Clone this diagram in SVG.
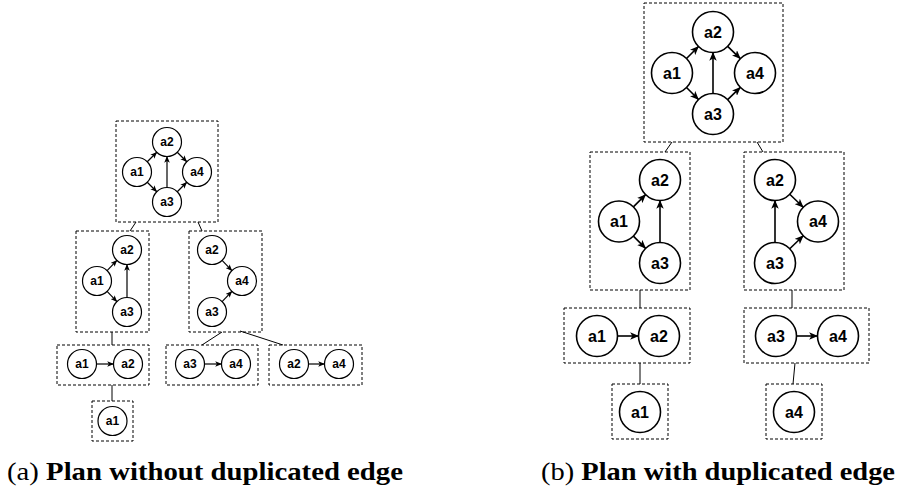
<svg xmlns="http://www.w3.org/2000/svg" width="902" height="488" viewBox="0 0 902 488">
  <style>
    .box { fill: none; stroke: #000; stroke-width: 1; stroke-dasharray: 3 2; }
    .n1 circle { fill: #fff; stroke: #000; stroke-width: 1.2; }
    .n2 circle { fill: #fff; stroke: #000; stroke-width: 1.6; }
    .n1 text, .n2 text { font-family: "Liberation Sans", Arial, sans-serif; font-weight: bold; text-anchor: middle; dominant-baseline: central; fill: #000; }
    .n1 text { font-size: 12px; }
    .n2 text { font-size: 16px; }
    .e1 { stroke: #000; stroke-width: 1.2; fill: none; marker-end: url(#arr); }
    .e2 { stroke: #000; stroke-width: 1.6; fill: none; marker-end: url(#arr); }
    .tree { stroke: #000; stroke-width: 1; fill: none; }
    .cap { font-family: "Liberation Serif", "Times New Roman", serif; font-size: 26px; fill: #000; }
    .cap .b { font-weight: bold; }
  </style>
  <defs>
    <!-- filled arrowhead with a shallow notch, sized by stroke width -->
    <marker id="arr" viewBox="0 0 6 5" refX="5.6" refY="2.5" markerWidth="5.6" markerHeight="4.8" orient="auto" markerUnits="strokeWidth">
      <path d="M0,0 L6,2.5 L0,5 L1.5,2.5 z" fill="#000"/>
    </marker>
  </defs>

  <!-- ===== Plan (a) ===== -->
  <g id="a-root">
    <rect class="box" x="116" y="121" width="102" height="101"/>
    <g class="n1">
      <circle cx="167" cy="142" r="14.5"/><text x="167" y="142">a2</text>
      <circle cx="137" cy="172" r="14.5"/><text x="137" y="172">a1</text>
      <circle cx="197" cy="172" r="14.5"/><text x="197" y="172">a4</text>
      <circle cx="167" cy="202" r="14.5"/><text x="167" y="202">a3</text>
    </g>
    <line class="e1" x1="147.25" y1="161.75" x2="156.75" y2="152.25"/>
    <line class="e1" x1="147.25" y1="182.25" x2="156.75" y2="191.75"/>
    <line class="e1" x1="167" y1="187.5" x2="167" y2="156.5"/>
    <line class="e1" x1="177.25" y1="152.25" x2="186.75" y2="161.75"/>
    <line class="e1" x1="177.25" y1="191.75" x2="186.75" y2="182.25"/>
  </g>

  <g id="a-left">
    <rect class="box" x="76" y="231" width="73" height="101"/>
    <g class="n1">
      <circle cx="127" cy="250" r="14.5"/><text x="127" y="250">a2</text>
      <circle cx="97" cy="281" r="14.5"/><text x="97" y="281">a1</text>
      <circle cx="127" cy="312" r="14.5"/><text x="127" y="312">a3</text>
    </g>
    <line class="e1" x1="107.08" y1="270.58" x2="116.92" y2="260.42"/>
    <line class="e1" x1="107.08" y1="291.42" x2="116.92" y2="301.58"/>
    <line class="e1" x1="127" y1="297.5" x2="127" y2="264.5"/>
  </g>

  <g id="a-right">
    <rect class="box" x="189" y="231" width="73" height="101"/>
    <g class="n1">
      <circle cx="212" cy="250" r="14.5"/><text x="212" y="250">a2</text>
      <circle cx="242" cy="281" r="14.5"/><text x="242" y="281">a4</text>
      <circle cx="212" cy="312" r="14.5"/><text x="212" y="312">a3</text>
    </g>
    <line class="e1" x1="222.08" y1="260.42" x2="231.92" y2="270.58"/>
    <line class="e1" x1="222.08" y1="301.58" x2="231.92" y2="291.42"/>
  </g>

  <g id="a-a1a2">
    <rect class="box" x="57" y="345" width="92" height="40"/>
    <g class="n1">
      <circle cx="82" cy="364" r="14.5"/><text x="82" y="364">a1</text>
      <circle cx="128" cy="364" r="14.5"/><text x="128" y="364">a2</text>
    </g>
    <line class="e1" x1="96.5" y1="364" x2="113.5" y2="364"/>
  </g>

  <g id="a-a3a4">
    <rect class="box" x="166" y="345" width="92" height="40"/>
    <g class="n1">
      <circle cx="190" cy="364" r="14.5"/><text x="190" y="364">a3</text>
      <circle cx="236" cy="364" r="14.5"/><text x="236" y="364">a4</text>
    </g>
    <line class="e1" x1="204.5" y1="364" x2="221.5" y2="364"/>
  </g>

  <g id="a-a2a4">
    <rect class="box" x="269" y="345" width="93" height="40"/>
    <g class="n1">
      <circle cx="294" cy="364" r="14.5"/><text x="294" y="364">a2</text>
      <circle cx="339" cy="364" r="14.5"/><text x="339" y="364">a4</text>
    </g>
    <line class="e1" x1="308.5" y1="364" x2="324.5" y2="364"/>
  </g>

  <g id="a-a1">
    <rect class="box" x="92" y="401" width="41" height="40"/>
    <g class="n1">
      <circle cx="112.5" cy="421" r="14.5"/><text x="112.5" y="421">a1</text>
    </g>
  </g>

  <g id="a-links">
    <line class="tree" x1="136" y1="222" x2="130" y2="231"/>
    <line class="tree" x1="198" y1="222" x2="202" y2="231"/>
    <line class="tree" x1="112" y1="332" x2="112" y2="345"/>
    <line class="tree" x1="222" y1="332" x2="202" y2="345"/>
    <line class="tree" x1="240" y1="331" x2="283" y2="345"/>
    <line class="tree" x1="112" y1="385" x2="112" y2="401"/>
  </g>

  <!-- ===== Plan (b) ===== -->
  <g id="b-root">
    <rect class="box" x="644" y="3" width="139" height="139"/>
    <g class="n2">
      <circle cx="713" cy="32" r="20.5"/><text x="713" y="32">a2</text>
      <circle cx="672" cy="73" r="20.5"/><text x="672" y="73">a1</text>
      <circle cx="755" cy="73" r="20.5"/><text x="755" y="73">a4</text>
      <circle cx="713" cy="114" r="20.5"/><text x="713" y="114">a3</text>
    </g>
    <line class="e2" x1="686.5" y1="58.5" x2="698.5" y2="46.5"/>
    <line class="e2" x1="686.5" y1="87.5" x2="698.5" y2="99.5"/>
    <line class="e2" x1="713" y1="93.5" x2="713" y2="52.5"/>
    <line class="e2" x1="727.67" y1="46.32" x2="740.33" y2="58.68"/>
    <line class="e2" x1="727.67" y1="99.68" x2="740.33" y2="87.32"/>
  </g>

  <g id="b-left">
    <rect class="box" x="590" y="152" width="100" height="138"/>
    <g class="n2">
      <circle cx="660" cy="180" r="20.5"/><text x="660" y="180">a2</text>
      <circle cx="619" cy="221.5" r="20.5"/><text x="619" y="221.5">a1</text>
      <circle cx="660" cy="263" r="20.5"/><text x="660" y="263">a3</text>
    </g>
    <line class="e2" x1="633.41" y1="206.92" x2="645.59" y2="194.58"/>
    <line class="e2" x1="633.41" y1="236.08" x2="645.59" y2="248.42"/>
    <line class="e2" x1="660" y1="242.5" x2="660" y2="200.5"/>
  </g>

  <g id="b-right">
    <rect class="box" x="744" y="152" width="100" height="138"/>
    <g class="n2">
      <circle cx="775" cy="180" r="20.5"/><text x="775" y="180">a2</text>
      <circle cx="818" cy="221.5" r="20.5"/><text x="818" y="221.5">a4</text>
      <circle cx="775" cy="263" r="20.5"/><text x="775" y="263">a3</text>
    </g>
    <line class="e2" x1="789.75" y1="194.24" x2="803.25" y2="207.26"/>
    <line class="e2" x1="789.75" y1="248.76" x2="803.25" y2="235.74"/>
    <line class="e2" x1="775" y1="242.5" x2="775" y2="200.5"/>
  </g>

  <g id="b-a1a2">
    <rect class="box" x="564" y="308" width="126" height="55"/>
    <g class="n2">
      <circle cx="597" cy="336" r="20.5"/><text x="597" y="336">a1</text>
      <circle cx="659" cy="336" r="20.5"/><text x="659" y="336">a2</text>
    </g>
    <line class="e2" x1="617.5" y1="336" x2="638.5" y2="336"/>
  </g>

  <g id="b-a3a4">
    <rect class="box" x="744" y="308" width="125" height="55"/>
    <g class="n2">
      <circle cx="776" cy="336" r="20.5"/><text x="776" y="336">a3</text>
      <circle cx="838" cy="336" r="20.5"/><text x="838" y="336">a4</text>
    </g>
    <line class="e2" x1="796.5" y1="336" x2="817.5" y2="336"/>
  </g>

  <g id="b-a1">
    <rect class="box" x="612" y="384" width="56" height="55"/>
    <g class="n2">
      <circle cx="640" cy="412" r="20.5"/><text x="640" y="412">a1</text>
    </g>
  </g>

  <g id="b-a4">
    <rect class="box" x="766" y="384" width="56" height="55"/>
    <g class="n2">
      <circle cx="794" cy="412" r="20.5"/><text x="794" y="412">a4</text>
    </g>
  </g>

  <g id="b-links">
    <line class="tree" x1="672" y1="142" x2="665" y2="152"/>
    <line class="tree" x1="757" y1="142" x2="763" y2="152"/>
    <line class="tree" x1="640" y1="290" x2="640" y2="308"/>
    <line class="tree" x1="792" y1="290" x2="792" y2="308"/>
    <line class="tree" x1="640" y1="363" x2="640" y2="384"/>
    <line class="tree" x1="795" y1="363" x2="793" y2="384"/>
  </g>

  <!-- captions -->
  <text class="cap" x="7" y="480" textLength="396" lengthAdjust="spacingAndGlyphs">(a) <tspan class="b">Plan without duplicated edge</tspan></text>
  <text class="cap" x="541" y="480" textLength="354" lengthAdjust="spacingAndGlyphs">(b) <tspan class="b">Plan with duplicated edge</tspan></text>
</svg>
